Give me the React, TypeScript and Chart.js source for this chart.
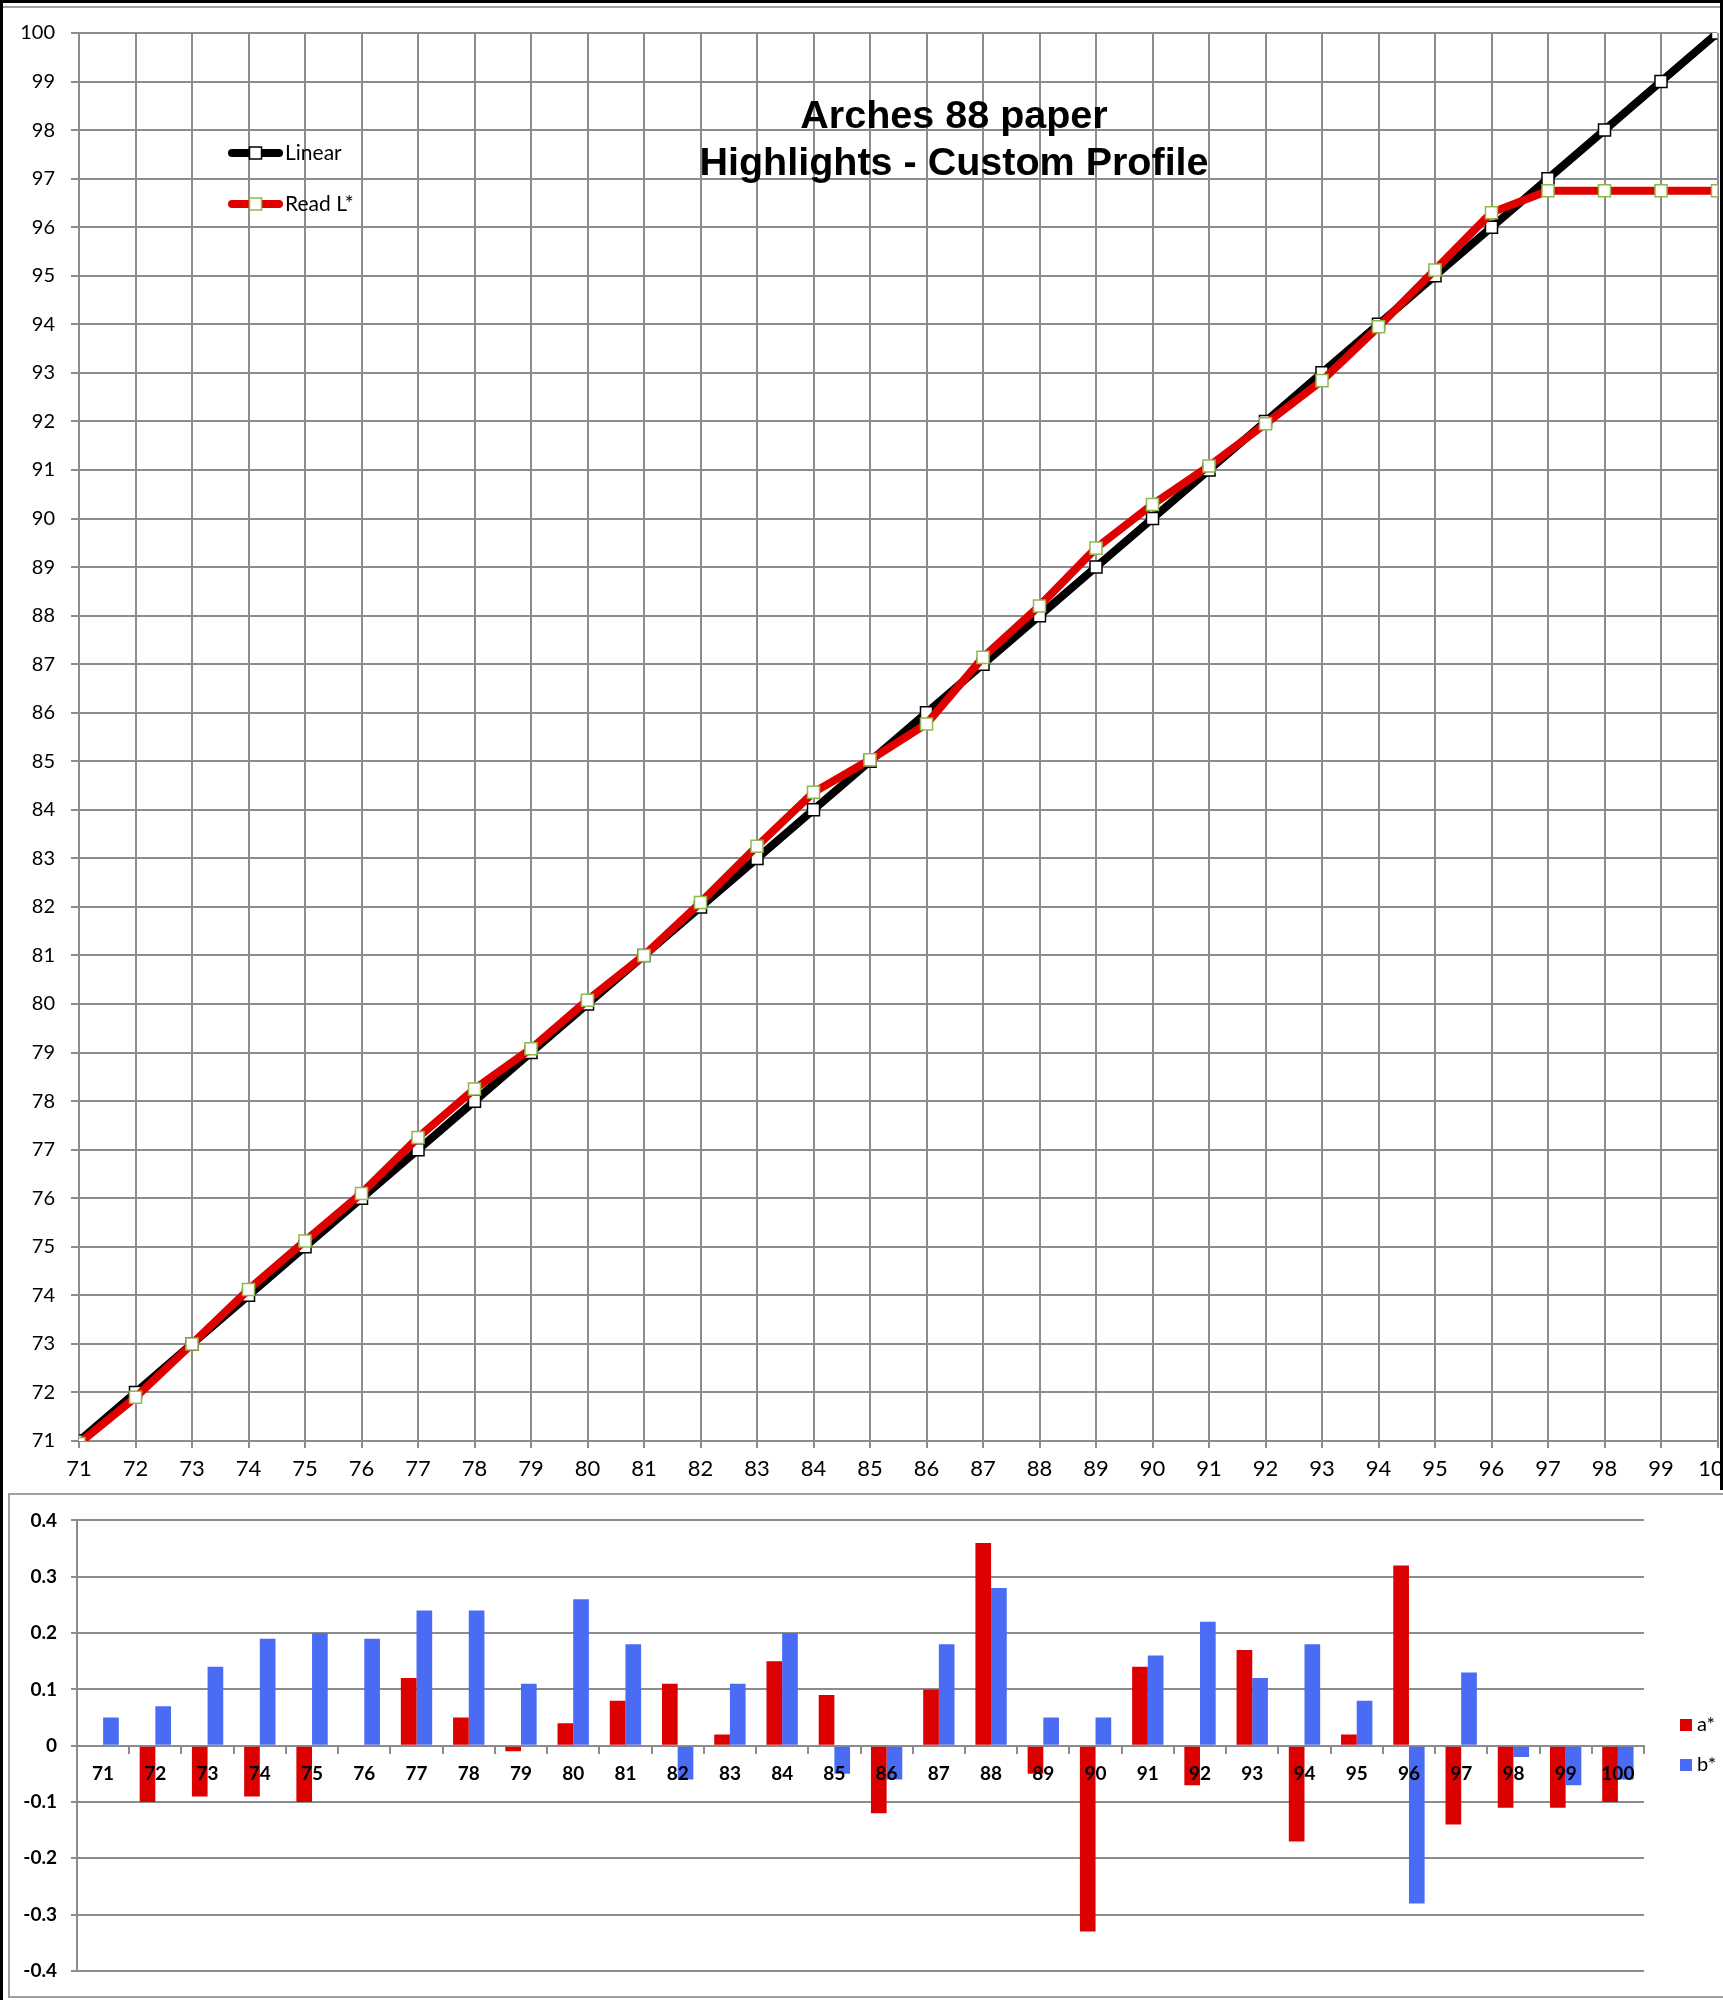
import React, { useEffect, useRef } from 'react';
import { Chart, registerables } from 'chart.js';

Chart.register(...registerables);

// ---------- data ----------
const categories = ['71', '72', '73', '74', '75', '76', '77', '78', '79', '80', '81', '82', '83', '84', '85', '86', '87', '88', '89', '90', '91', '92', '93', '94', '95', '96', '97', '98', '99', '100'];
const xValues = [71, 72, 73, 74, 75, 76, 77, 78, 79, 80, 81, 82, 83, 84, 85, 86, 87, 88, 89, 90, 91, 92, 93, 94, 95, 96, 97, 98, 99, 100];
const linearValues = [71, 72, 73, 74, 75, 76, 77, 78, 79, 80, 81, 82, 83, 84, 85, 86, 87, 88, 89, 90, 91, 92, 93, 94, 95, 96, 97, 98, 99, 100];
const readLValues = [70.95, 71.9, 73.0, 74.12, 75.12, 76.1, 77.25, 78.25, 79.08, 80.08, 81.0, 82.09, 83.25, 84.36, 85.03, 85.77, 87.14, 88.2, 89.39, 90.29, 91.08, 91.95, 92.84, 93.95, 95.12, 96.3, 96.75, 96.75, 96.75, 96.75];
const aStarValues = [0, -0.10, -0.09, -0.09, -0.10, 0, 0.12, 0.05, -0.01, 0.04, 0.08, 0.11, 0.02, 0.15, 0.09, -0.12, 0.10, 0.36, -0.05, -0.33, 0.14, -0.07, 0.17, -0.17, 0.02, 0.32, -0.14, -0.11, -0.11, -0.10];
const bStarValues = [0.05, 0.07, 0.14, 0.19, 0.20, 0.19, 0.24, 0.24, 0.11, 0.26, 0.18, -0.06, 0.11, 0.20, -0.05, -0.06, 0.18, 0.28, 0.05, 0.05, 0.16, 0.22, 0.12, 0.18, 0.08, -0.28, 0.13, -0.02, -0.07, -0.06];
const titleLines = ['Arches 88 paper', 'Highlights - Custom Profile'];
const lineLabels = ['Linear', 'Read L*'];
const barLabels = ['a*', 'b*'];
const topAxisMin = 71;
const topAxisMax = 100;
const bottomAxisMin = -0.4;
const bottomAxisMax = 0.4;

// ---------- styles ----------
const GRID = '#8c8c8c';
const BLACK = '#000000';
const RED = '#df0000';
const GREEN = '#8db84a';
const BAR_RED = '#dc0000';
const BAR_BLUE = '#4a6cf5';
const FONT = 'Lato, "Open Sans", sans-serif';

const topDecor = {
  id: 'topDecor',
  afterDraw(chart: any) {
    const ctx = chart.ctx;
    ctx.save();
    // title
    ctx.fillStyle = '#000';
    ctx.textAlign = 'center';
    ctx.textBaseline = 'alphabetic';
    ctx.font = 'bold 39.5px "Liberation Sans", Arial, sans-serif';
    ctx.fillText(titleLines[0], 954, 128);
    ctx.fillText(titleLines[1], 954, 175);
    // legend
    const ys = [153, 204];
    chart.data.datasets.forEach((ds: any, i: number) => {
      const y = ys[i];
      ctx.strokeStyle = ds.borderColor;
      ctx.lineWidth = 8;
      ctx.lineCap = 'round';
      ctx.beginPath();
      ctx.moveTo(232, y);
      ctx.lineTo(279, y);
      ctx.stroke();
      ctx.fillStyle = '#fff';
      ctx.fillRect(249.5, y - 6, 12, 12);
      ctx.strokeStyle = ds.pointBorderColor;
      ctx.lineWidth = 1.5;
      ctx.strokeRect(249.5, y - 6, 12, 12);
      ctx.fillStyle = '#000';
      ctx.textAlign = 'left';
      ctx.textBaseline = 'middle';
      ctx.font = `21px ${FONT}`;
      ctx.fillText(ds.label, 285, y);
    });
    ctx.restore();
  },
};

const bottomDecor = {
  id: 'bottomDecor',
  afterDraw(chart: any) {
    const ctx = chart.ctx;
    ctx.save();
    const ys = [230, 270];
    chart.data.datasets.forEach((ds: any, i: number) => {
      const y = ys[i];
      ctx.fillStyle = ds.backgroundColor;
      ctx.fillRect(1680, y - 6, 12, 12);
      ctx.fillStyle = '#000';
      ctx.textAlign = 'left';
      ctx.textBaseline = 'middle';
      ctx.font = `20px ${FONT}`;
      ctx.fillText(ds.label, 1697, y);
    });
    ctx.restore();
  },
};

function TopChart() {
  const ref = useRef<HTMLCanvasElement | null>(null);
  useEffect(() => {
    if (!ref.current) return;
    const chart = new Chart(ref.current, {
      type: 'line',
      data: {
        datasets: [
          {
            label: lineLabels[0],
            data: xValues.map((x, i) => ({ x, y: linearValues[i] })),
            borderColor: BLACK,
            borderWidth: 8,
            borderCapStyle: 'round',
            borderJoinStyle: 'round',
            pointStyle: 'rect',
            pointRadius: 8.5,
            pointBackgroundColor: '#ffffff',
            pointBorderColor: BLACK,
            pointBorderWidth: 1.5,
            tension: 0,
            order: 1,
          },
          {
            label: lineLabels[1],
            data: xValues.map((x, i) => ({ x, y: readLValues[i] })),
            borderColor: RED,
            borderWidth: 8,
            borderCapStyle: 'round',
            borderJoinStyle: 'round',
            pointStyle: 'rect',
            pointRadius: 8.5,
            pointBackgroundColor: '#ffffff',
            pointBorderColor: GREEN,
            pointBorderWidth: 1.5,
            tension: 0,
            order: 0,
          },
        ],
      } as any,
      options: {
        responsive: false,
        animation: false,
        events: [],
        layout: { padding: { top: 33, right: 82.5, bottom: 9, left: 0 } },
        plugins: { legend: { display: false }, tooltip: { enabled: false }, title: { display: false } },
        scales: {
          x: {
            type: 'linear',
            min: topAxisMin,
            max: topAxisMax,
            ticks: {
              stepSize: 1,
              maxTicksLimit: 100,
              autoSkip: false,
              maxRotation: 0,
              color: '#000',
              padding: 8,
              font: { family: FONT, size: 22 },
              callback: (v: any) => String(v),
            },
            grid: { color: GRID, lineWidth: 2, tickLength: 7 },
            border: { color: GRID, width: 2 },
            afterFit: (s: any) => { s.height = 40; },
          },
          y: {
            type: 'linear',
            min: topAxisMin,
            max: topAxisMax,
            ticks: {
              stepSize: 1,
              maxTicksLimit: 100,
              autoSkip: false,
              color: '#000',
              padding: 16,
              font: { family: FONT, size: 20 },
              callback: (v: any) => String(v),
            },
            grid: { color: GRID, lineWidth: 2, tickLength: 8 },
            border: { color: GRID, width: 2 },
            afterFit: (s: any) => { s.width = 79; },
          },
        },
      } as any,
      plugins: [topDecor],
    });
    return () => chart.destroy();
  }, []);
  return <canvas ref={ref} width={1800} height={1490} style={{ position: 'absolute', left: 0, top: 0 }} />;
}

function BottomChart() {
  const ref = useRef<HTMLCanvasElement | null>(null);
  useEffect(() => {
    if (!ref.current) return;
    const chart = new Chart(ref.current, {
      type: 'bar',
      data: {
        labels: categories,
        datasets: [
          { label: barLabels[0], data: aStarValues, backgroundColor: BAR_RED, categoryPercentage: 0.6, barPercentage: 1 },
          { label: barLabels[1], data: bStarValues, backgroundColor: BAR_BLUE, categoryPercentage: 0.6, barPercentage: 1 },
        ],
      },
      options: {
        responsive: false,
        animation: false,
        events: [],
        layout: { padding: { top: 23, right: 79, bottom: 29, left: 0 } },
        plugins: { legend: { display: false }, tooltip: { enabled: false } },
        scales: {
          x: {
            type: 'category',
            position: { y: 0 },
            ticks: {
              z: 1,
              autoSkip: false,
              maxRotation: 0,
              color: '#000',
              padding: 10,
              font: { family: FONT, size: 19, weight: 'bold' },
            },
            grid: { drawOnChartArea: false, drawTicks: true, tickLength: 7, color: GRID, lineWidth: 2, offset: true },
            border: { color: GRID, width: 2 },
            afterFit: (s: any) => { s.height = 0; },
          },
          y: {
            type: 'linear',
            min: bottomAxisMin,
            max: bottomAxisMax,
            ticks: {
              stepSize: 0.1,
              color: '#000',
              padding: 14,
              font: { family: FONT, size: 19, weight: 'bold' },
              callback: (v: any) => {
                const n = Math.round(Number(v) * 10) / 10;
                return n === 0 ? '0' : n.toFixed(1);
              },
            },
            grid: { color: GRID, lineWidth: 2, tickLength: 6 },
            border: { color: GRID, width: 2 },
            afterFit: (s: any) => { s.width = 77; },
          },
        },
      } as any,
      plugins: [bottomDecor],
    });
    return () => chart.destroy();
  }, []);
  return <canvas ref={ref} width={1723} height={505} style={{ position: 'absolute', left: 0, top: 1495 }} />;
}

export default function App() {
  return (
    <div style={{ position: 'absolute', left: 0, top: 0, width: 1723, height: 2000, overflow: 'hidden', background: '#fff' }}>
      <TopChart />
      <BottomChart />
      <div style={{ position: 'absolute', left: 0, top: 0, width: 1723, height: 3, background: '#000' }} />
      <div style={{ position: 'absolute', left: 0, top: 0, width: 3, height: 2000, background: '#000' }} />
      <div style={{ position: 'absolute', left: 1720, top: 0, width: 3, height: 1490, background: '#000' }} />
      <div style={{ position: 'absolute', left: 3, top: 6, width: 1717, height: 2, background: '#a0a0a0' }} />
      <div style={{ position: 'absolute', left: 8, top: 1493, width: 1800, height: 505, border: '2px solid #a0a0a0', boxSizing: 'border-box' }} />
    </div>
  );
}
